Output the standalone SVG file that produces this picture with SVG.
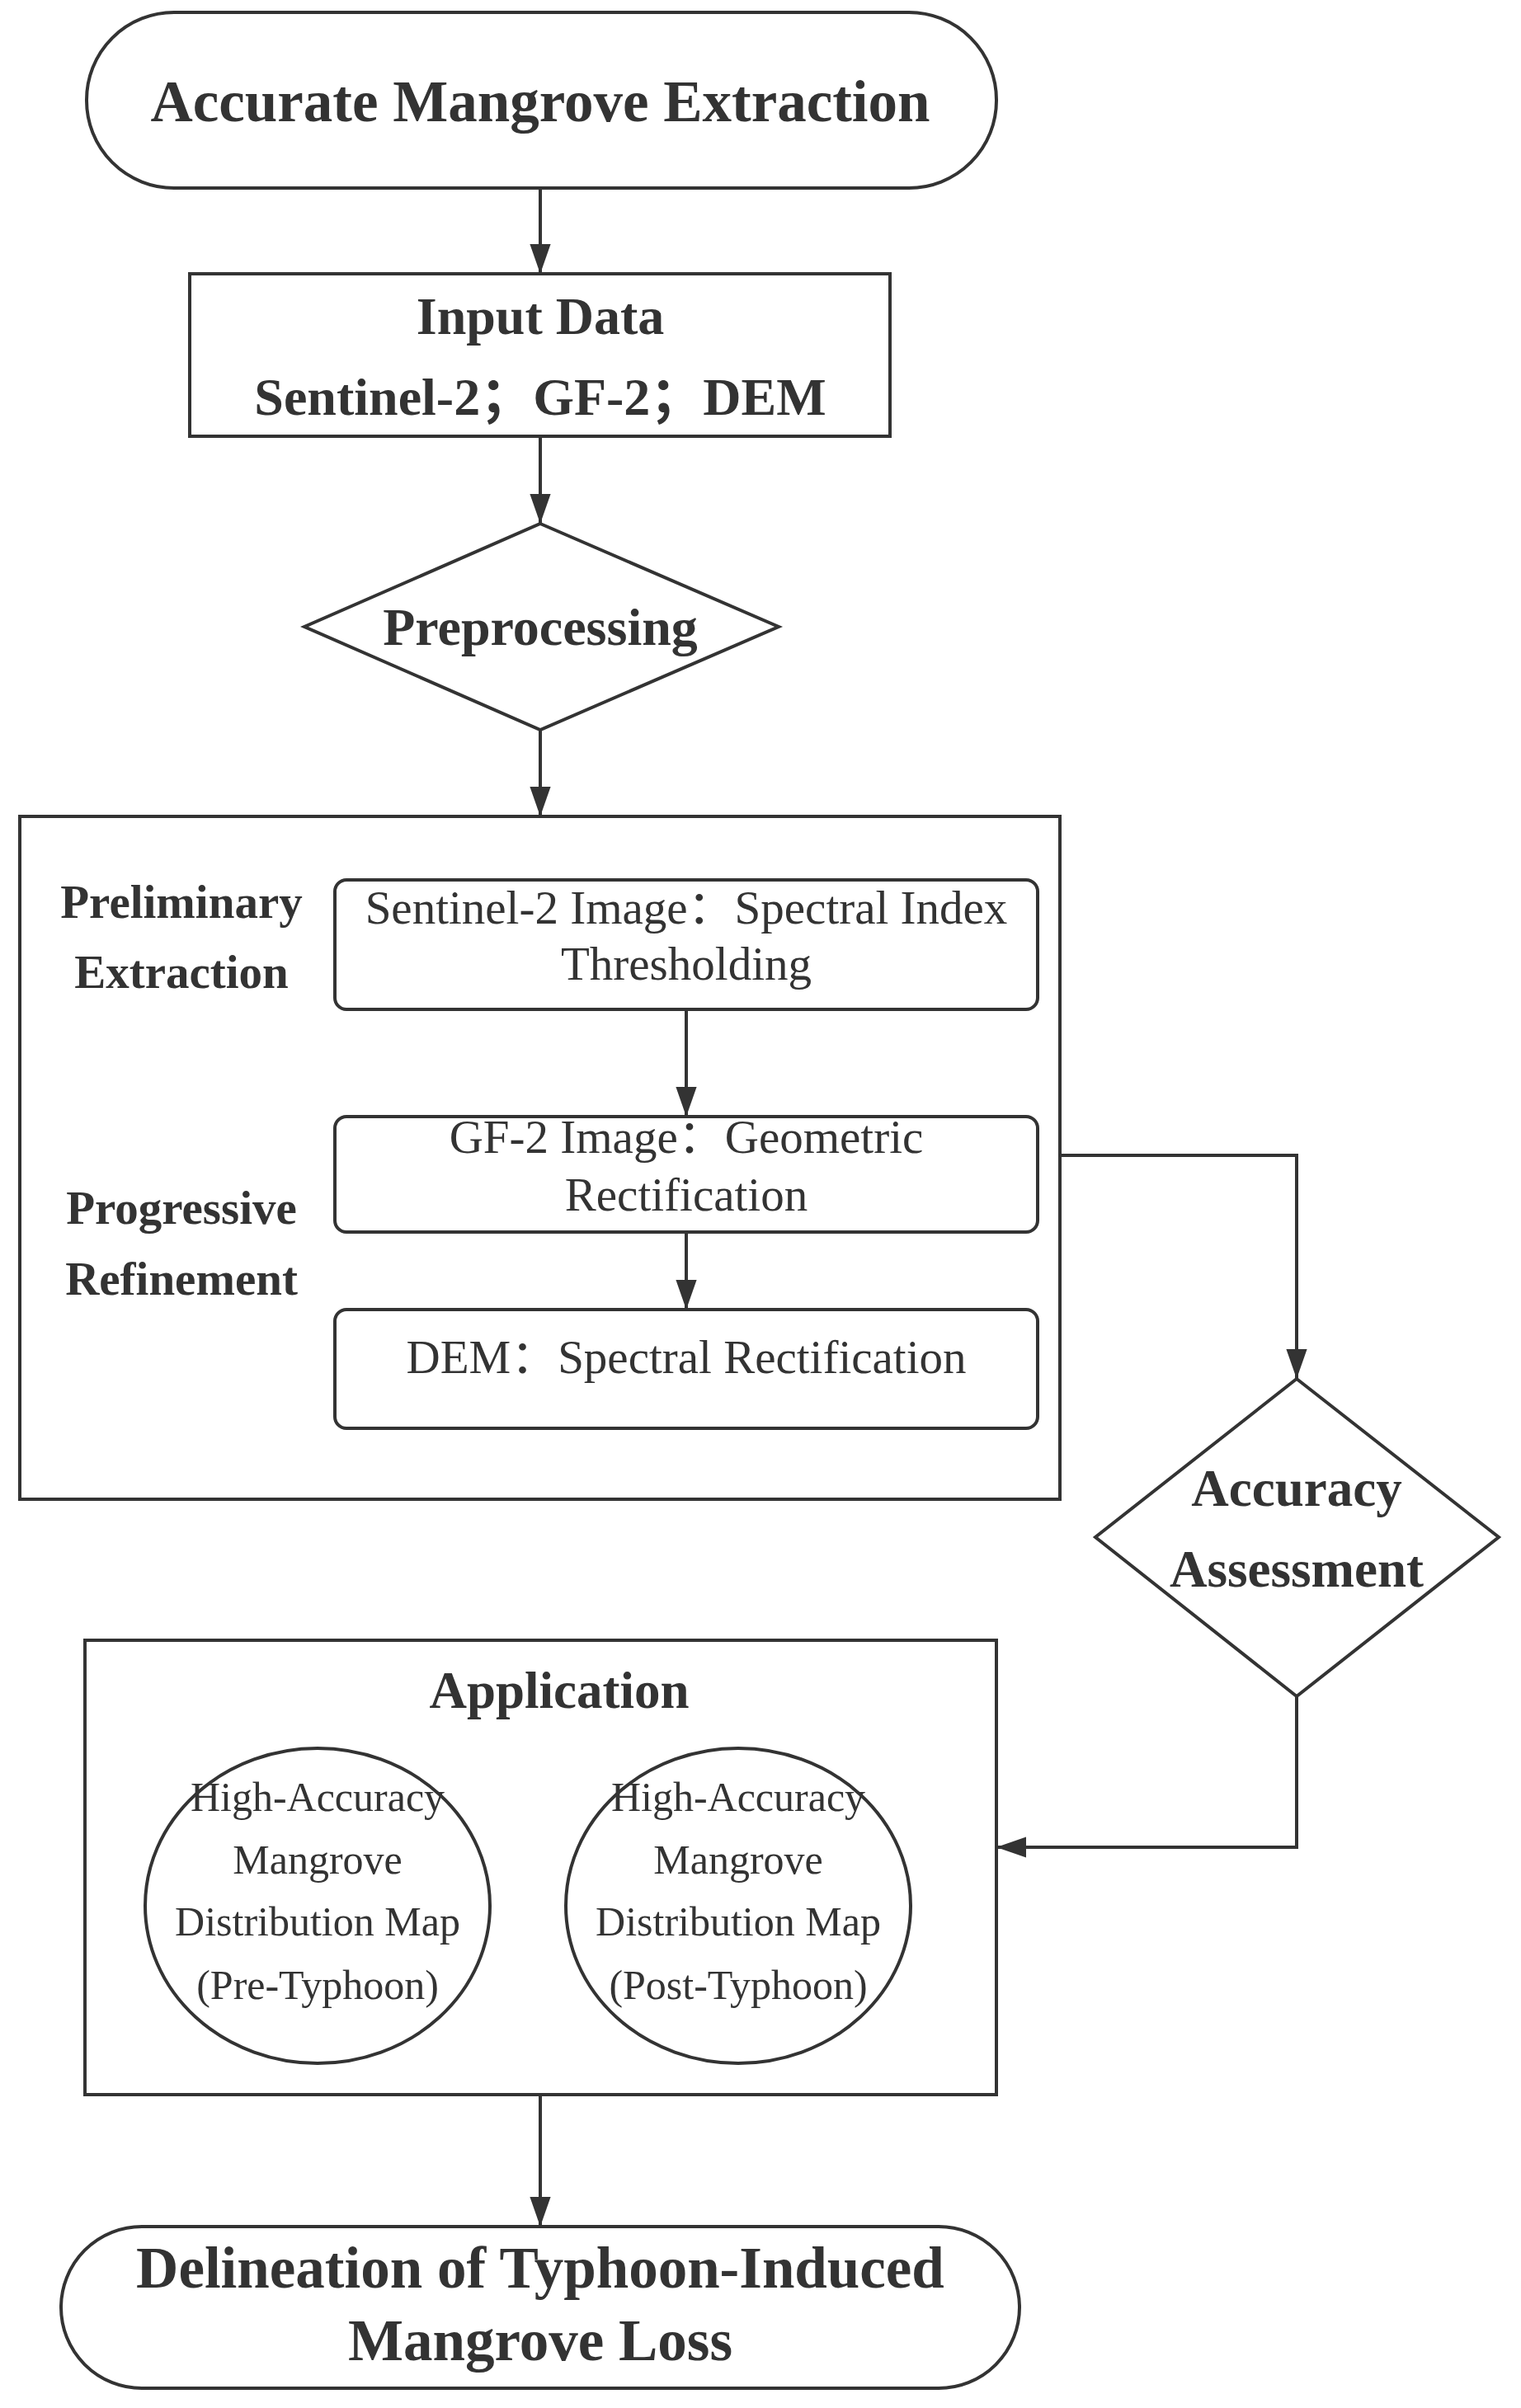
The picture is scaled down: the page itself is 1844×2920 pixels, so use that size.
<svg xmlns="http://www.w3.org/2000/svg" width="1844" height="2920" viewBox="0 0 1844 2920">
<defs>
<style>
.s{fill:#fff;stroke:#333;stroke-width:4}
.c{fill:none;stroke:#333;stroke-width:4}
text{font-family:"Liberation Serif","Noto Sans CJK SC",serif;fill:#333;text-anchor:middle}
.b{font-weight:bold}
</style>
<marker id="ah" viewBox="0 0 20 20" refX="20" refY="10" markerWidth="36" markerHeight="36" orient="auto" markerUnits="userSpaceOnUse"><path d="M0,3 L20,10 L0,17 z" fill="#333"/></marker>
</defs>
<g id="start"><rect class="s" x="105" y="15" width="1103" height="213" rx="106"/><text class="b" x="655" y="147" font-size="71">Accurate Mangrove Extraction</text></g>
<g id="input"><rect class="s" x="230" y="332" width="849" height="197"/><text class="b" x="655" y="405" font-size="64">Input Data</text><text class="b" x="655" y="503" font-size="64">Sentinel-2；GF-2；DEM</text></g>
<g id="preproc"><polygon class="s" points="655,635 944,760 655,885 369,760"/><text class="b" x="655" y="782" font-size="64">Preprocessing</text></g>
<g id="extraction"><rect class="s" x="24" y="990" width="1261" height="828"/>
<text class="b" x="220" y="1113" font-size="57">Preliminary</text><text class="b" x="220" y="1198" font-size="57">Extraction</text>
<text class="b" x="220" y="1484" font-size="57">Progressive</text><text class="b" x="220" y="1570" font-size="57">Refinement</text></g>
<g id="box1"><rect class="s" x="406" y="1067" width="852" height="157" rx="14"/><text x="832" y="1120" font-size="57">Sentinel-2 Image：Spectral Index</text><text x="832" y="1188" font-size="57">Thresholding</text></g>
<g id="box2"><rect class="s" x="406" y="1354" width="852" height="140" rx="14"/><text x="832" y="1398" font-size="57">GF-2 Image：Geometric</text><text x="832" y="1468" font-size="57">Rectification</text></g>
<g id="box3"><rect class="s" x="406" y="1588" width="852" height="144" rx="14"/><text x="832" y="1665" font-size="57">DEM：Spectral Rectification</text></g>
<g id="accuracy"><polygon class="s" points="1572,1672 1817,1864 1572,2057 1328,1864"/><text class="b" x="1572" y="1826" font-size="63">Accuracy</text><text class="b" x="1572" y="1924" font-size="63">Assessment</text></g>
<g id="application"><rect class="s" x="103" y="1989" width="1105" height="551"/><text class="b" x="678" y="2071" font-size="63">Application</text>
<ellipse class="s" cx="385" cy="2311" rx="209" ry="191"/>
<text x="385" y="2196" font-size="50">High-Accuracy</text><text x="385" y="2272" font-size="50">Mangrove</text><text x="385" y="2347" font-size="50">Distribution Map</text><text x="385" y="2424" font-size="50">(Pre-Typhoon)</text>
<ellipse class="s" cx="895" cy="2311" rx="209" ry="191"/>
<text x="895" y="2196" font-size="50">High-Accuracy</text><text x="895" y="2272" font-size="50">Mangrove</text><text x="895" y="2347" font-size="50">Distribution Map</text><text x="895" y="2424" font-size="50">(Post-Typhoon)</text></g>
<g id="end"><rect class="s" x="74" y="2700" width="1162" height="196" rx="98"/><text class="b" x="655" y="2774" font-size="71">Delineation of Typhoon-Induced</text><text class="b" x="655" y="2862" font-size="71">Mangrove Loss</text></g>
<g id="connectors">
<line class="c" x1="655" y1="228" x2="655" y2="332" marker-end="url(#ah)"/>
<line class="c" x1="655" y1="529" x2="655" y2="635" marker-end="url(#ah)"/>
<line class="c" x1="655" y1="885" x2="655" y2="990" marker-end="url(#ah)"/>
<line class="c" x1="832" y1="1224" x2="832" y2="1354" marker-end="url(#ah)"/>
<line class="c" x1="832" y1="1494" x2="832" y2="1588" marker-end="url(#ah)"/>
<polyline class="c" points="1285,1401 1572,1401 1572,1672" marker-end="url(#ah)"/>
<polyline class="c" points="1572,2057 1572,2240 1208,2240" marker-end="url(#ah)"/>
<line class="c" x1="655" y1="2540" x2="655" y2="2700" marker-end="url(#ah)"/>
</g>
</svg>
